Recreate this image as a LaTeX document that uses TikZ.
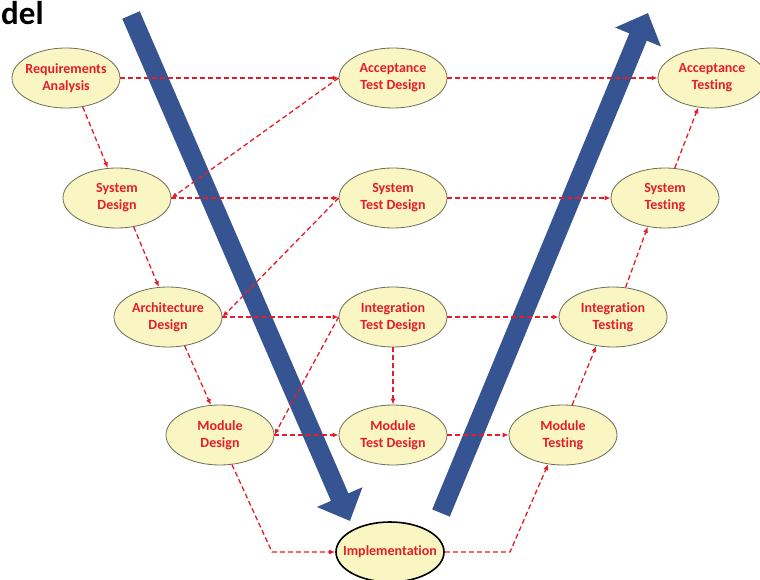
\documentclass[tikz,border=0pt]{standalone}
\usepackage{fontspec}
\setmainfont{Carlito}[Ligatures=NoCommon]
\usetikzlibrary{shapes.geometric,arrows.meta}
\definecolor{vblue}{RGB}{55,84,146}
\definecolor{vred}{RGB}{228,30,40}
\definecolor{vfill}{RGB}{250,246,195}
\definecolor{vedge}{RGB}{110,110,85}

\begin{document}
\begin{tikzpicture}[x=1pt,y=-1pt,
    phase/.style={ellipse,draw=vedge,fill=vfill,line width=0.8pt,minimum width=108pt,minimum height=60pt,
      inner xsep=-14pt,inner ysep=0pt,align=center,text=vred,font=\fontsize{14}{17}\selectfont\bfseries},
    flow/.style={draw=vred,line width=1.3pt,dash pattern=on 5pt off 3pt,-{Latex[length=6pt,width=5pt]}},
    bigarrow/.style={draw=vblue,line width=19pt,-{Triangle[length=26pt,width=48pt]}}]
    \useasboundingbox (0,0) rectangle (760,580);

    % the two big arrows of the V
    \coordinate (dtop) at (131,15);
    \coordinate (dtip) at (350,521);
    \coordinate (utail) at (441,513);
    \coordinate (utip) at (648,13);
    \draw[bigarrow] (dtop) -- (dtip);
    \draw[bigarrow] (utail) -- (utip);

    \node[anchor=base west,inner sep=0pt,font=\fontsize{33}{33}\selectfont\bfseries] (title) at (1,25) {del};

    % left side
    \node[phase] (req) at (66,78) {Requirements\\Analysis};
    \node[phase] (sysd) at (117,198) {System\\Design};
    \node[phase] (arch) at (168,317) {Architecture\\Design};
    \node[phase] (modd) at (220,435) {Module\\Design};
    \node[phase,draw=black,line width=1.6pt] (impl) at (390,552) {Implementation};

    % middle
    \node[phase] (atd) at (393,78) {Acceptance\\Test Design};
    \node[phase] (std) at (393,198) {System\\Test Design};
    \node[phase] (itd) at (393,317) {Integration\\Test Design};
    \node[phase] (mtd) at (393,435) {Module\\Test Design};

    % right side
    \node[phase] (at) at (712,78) {Acceptance\\Testing};
    \node[phase] (syst) at (665,198) {System\\Testing};
    \node[phase] (intt) at (613,317) {Integration\\Testing};
    \node[phase] (modt) at (563,435) {Module\\Testing};

    \draw[flow] (req) -- (atd);
    \draw[flow] (atd) -- (at);
    \draw[flow] (sysd) -- (std);
    \draw[flow] (std) -- (syst);
    \draw[flow] (arch) -- (itd);
    \draw[flow] (itd) -- (intt);
    \draw[flow] (modd) -- (mtd);
    \draw[flow] (mtd) -- (modt);
    \draw[flow] (itd) -- (mtd);

    \draw[flow] (atd.west) -- (sysd.east);
    \draw[flow] (std.west) -- (arch.east);
    \draw[flow] (itd.west) -- (modd.east);

    \draw[flow] (req.-60) -- (sysd.107);
    \draw[flow] (sysd.-60) -- (arch.107);
    \draw[flow] (arch.-60) -- (modd.107);

    \coordinate (lbend) at (272,552);
    \coordinate (rbend) at (510,552);
    \draw[flow] (modd.-68) -- (lbend) -- (impl);
    \draw[flow] (impl) -- (rbend) -- (modt.-117);

    \draw[flow] (modt.73) -- (intt.-120);
    \draw[flow] (intt.67) -- (syst.-121);
    \draw[flow] (syst.72) -- (at.-115);
\end{tikzpicture}
\end{document}
